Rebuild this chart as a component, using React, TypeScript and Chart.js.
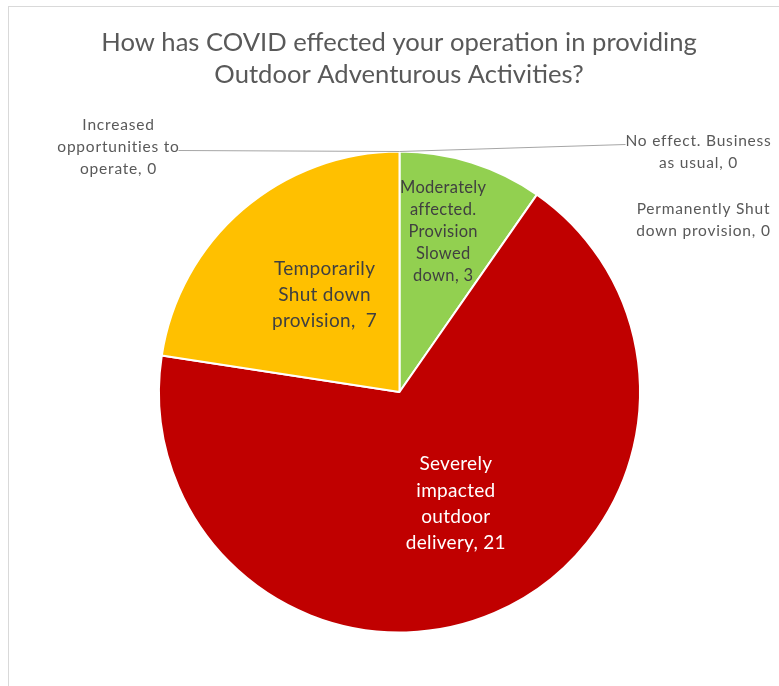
import React, { useEffect, useRef } from "react";
import { Chart, registerables } from "chart.js";

Chart.register(...registerables);

const titleLines = [
  "How has COVID effected your operation in providing",
  "Outdoor Adventurous Activities?",
];

const categories = [
  "No effect. Business as usual",
  "Permanently Shut down provision",
  "Moderately affected. Provision Slowed down",
  "Severely impacted outdoor delivery",
  "Temporarily Shut down provision",
  "Increased opportunities to operate",
];

const values = [0, 0, 3, 21, 7, 0];

const labelLines = [
  ["No effect. Business", "as usual, 0"],
  ["Permanently Shut", "down provision, 0"],
  ["Moderately", "affected.", "Provision", "Slowed", "down, 3"],
  ["Severely", "impacted", "outdoor", "delivery, 21"],
  ["Temporarily", "Shut down", "provision,  7"],
  ["Increased", "opportunities to", "operate, 0"],
];

const colors = ["#A5A5A5", "#4472C4", "#92D050", "#C00000", "#FFC000", "#5B9BD5"];

const FONT = "Lato, 'Open Sans', sans-serif";

// label layout options (style, not data)
const insideOpts: Record<number, { frac: number; color: string; size: number; lh: number; dx: number; dy: number }> = {
  2: { frac: 0.69, color: "#404040", size: 16.5, lh: 22.2, dx: -6, dy: -2 },
  3: { frac: 0.51, color: "#FFFFFF", size: 19, lh: 26.3, dx: 8, dy: -1 },
  4: { frac: 0.51, color: "#404040", size: 19, lh: 26, dx: 5, dy: -4 },
};
const outsideOpts: Record<number, { cx: number; cy: number; lineTo: number | null; lineY: number }> = {
  0: { cx: 299, cy: 0, lineTo: 226, lineY: -7 },
  1: { cx: 304, cy: 68, lineTo: null, lineY: 0 },
  5: { cx: -281, cy: -5, lineTo: -221, lineY: -1 },
};

const labelPlugin = {
  id: "sliceLabels",
  afterDraw(chart: any) {
    const ctx = chart.ctx;
    const meta = chart.getDatasetMeta(0);
    const arcs = meta.data;
    const first = arcs[0];
    const cx = first.x;
    const cy = first.y;
    const R = first.outerRadius;

    ctx.save();
    // title
    ctx.fillStyle = "#595959";
    ctx.font = `25.6px ${FONT}`;
    ctx.textAlign = "center";
    ctx.textBaseline = "middle";
    ctx.fillText(titleLines[0], 399, 43);
    ctx.fillText(titleLines[1], 399, 75);

    arcs.forEach((arc: any, i: number) => {
      const lines = labelLines[i];
      if (values[i] > 0) {
        const o = insideOpts[i];
        const mid = (arc.startAngle + arc.endAngle) / 2;
        const x = cx + Math.cos(mid) * R * o.frac + o.dx;
        const y = cy + Math.sin(mid) * R * o.frac + o.dy;
        ctx.fillStyle = o.color;
        ctx.font = `${o.size}px ${FONT}`;
        ctx.textAlign = "center";
        ctx.textBaseline = "middle";
        (ctx as any).letterSpacing = "0.3px";
        const top = y - ((lines.length - 1) * o.lh) / 2;
        lines.forEach((l, k) => ctx.fillText(l, x, top + k * o.lh));
      } else {
        const o = outsideOpts[i];
        const ax = cx + Math.cos(arc.startAngle) * R;
        const ay = cy + Math.sin(arc.startAngle) * R;
        if (o.lineTo !== null) {
          ctx.strokeStyle = "#A6A6A6";
          ctx.lineWidth = 1.2;
          ctx.beginPath();
          ctx.moveTo(ax, ay);
          ctx.lineTo(ax + o.lineTo, ay + o.lineY);
          ctx.stroke();
        }
        const lh = 22;
        ctx.fillStyle = "#595959";
        ctx.font = `15.5px ${FONT}`;
        ctx.textAlign = "center";
        ctx.textBaseline = "middle";
        (ctx as any).letterSpacing = "0.8px";
        const x = ax + o.cx;
        const y = ay + o.cy;
        const top = y - ((lines.length - 1) * lh) / 2;
        lines.forEach((l, k) => ctx.fillText(l, x, top + k * lh));
      }
    });
    ctx.restore();
  },
};

export default function App() {
  const ref = useRef<HTMLCanvasElement>(null);
  useEffect(() => {
    if (!ref.current) return;
    const chart = new Chart(ref.current, {
      type: "pie",
      data: {
        labels: categories,
        datasets: [
          {
            data: values,
            backgroundColor: colors,
            borderColor: "#FFFFFF",
            borderWidth: 2,
          },
        ],
      },
      options: {
        animation: false,
        responsive: false,
        maintainAspectRatio: false,
        layout: { padding: { top: 150, bottom: 52, left: 158, right: 138 } },
        plugins: {
          legend: { display: false },
          tooltip: { enabled: false },
          title: { display: false },
        },
      },
      plugins: [labelPlugin],
    });
    return () => chart.destroy();
  }, []);

  return (
    <div style={{ position: "fixed", left: 0, top: 0, width: 779, height: 686, overflow: "hidden", background: "#fff" }}>
      <div
        style={{
          position: "absolute",
          left: 8,
          top: 6,
          width: 800,
          height: 720,
          border: "1px solid #D9D9D9",
          boxSizing: "border-box",
        }}
      />
      <canvas ref={ref} width={779} height={686} style={{ position: "absolute", left: 0, top: 0 }} />
    </div>
  );
}
